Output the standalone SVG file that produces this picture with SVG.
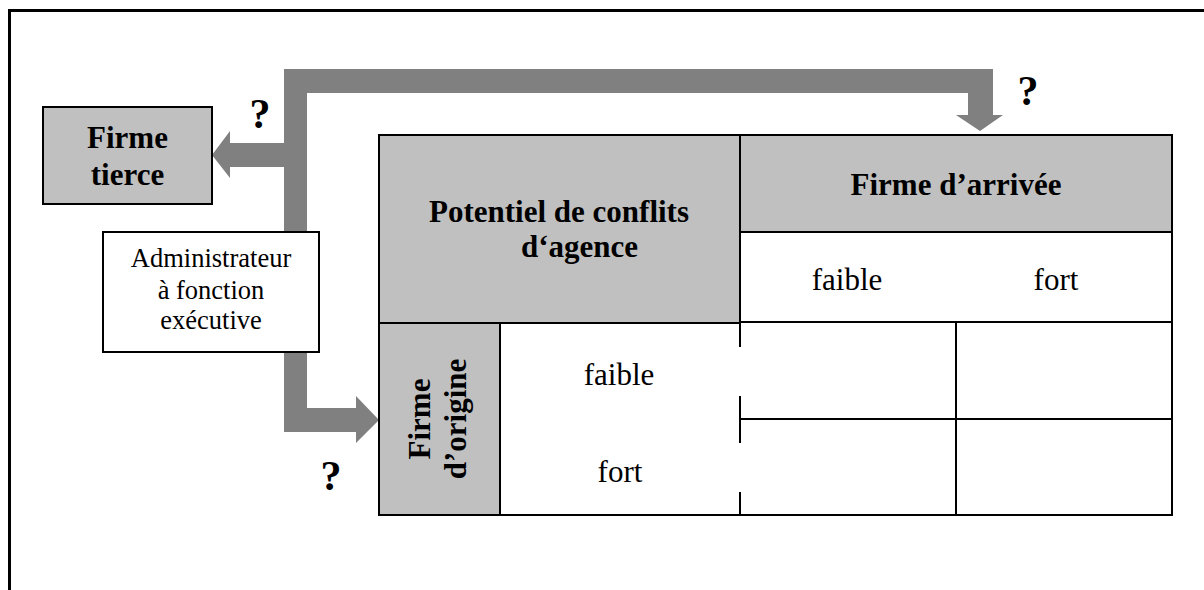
<svg xmlns="http://www.w3.org/2000/svg" width="1204" height="590" viewBox="0 0 1204 590">
<style>
  text { font-family: "Liberation Serif", "Times New Roman", serif; fill: #000; }
  .b { font-weight: bold; font-size: 31px; }
  .r { font-size: 31px; }
  .s { font-size: 26.5px; }
  .q { font-weight: bold; font-size: 42px; text-anchor: middle; }
  .m { text-anchor: middle; }
  .gray { fill: #c0c0c0; stroke: #000; stroke-width: 2; }
  .white { fill: #fff; stroke: #000; stroke-width: 2; }
  .ln { stroke: #000; stroke-width: 2; fill: none; }
  .arrow { fill: #808080; stroke: none; }
</style>
<rect width="1204" height="590" fill="#fff"/>
<!-- frame -->
<path d="M9.5,590 V10.5 H1204" fill="none" stroke="#000" stroke-width="3"/>

<g id="connectors">
  <polygon class="arrow" points="284,232 284,69 993,69 993,115 1003,115 980,131 956,115 968,115 968,93 307,93 307,232"/>
  <polygon class="arrow" points="284,143 230,143 230,131 212,155 230,178 230,167 284,167"/>
  <polygon class="arrow" points="284,352 307,352 307,408 356,408 356,396 379,420 356,443 356,432 284,432"/>
</g>

<g id="q1"><text class="q" x="260" y="128">?</text></g>
<g id="q2"><text class="q" x="331" y="490">?</text></g>
<g id="q3"><text class="q" x="1028" y="105">?</text></g>

<g id="firme-tierce">
  <rect class="gray" x="43" y="107" width="169" height="97"/>
  <text class="b m" x="127.5" y="148">Firme</text>
  <text class="b m" x="127.5" y="185">tierce</text>
</g>

<g id="administrateur">
  <rect class="white" x="103" y="232" width="216" height="120"/>
  <text class="s m" x="211" y="267">Administrateur</text>
  <text class="s m" x="211" y="299">à fonction</text>
  <text class="s m" x="211" y="329">exécutive</text>
</g>

<g id="table">
  <g id="potentiel">
    <rect class="gray" x="379" y="135" width="361" height="188"/>
    <text class="b m" x="559" y="222">Potentiel de conflits</text>
    <text class="b" x="521" y="257">d‘agence</text>
  </g>
  <g id="firme-arrivee">
    <rect class="gray" x="740" y="135" width="432" height="97"/>
    <text class="b m" x="956" y="195">Firme d’arrivée</text>
  </g>
  <g id="arrivee-niveaux">
    <rect class="white" x="740" y="232" width="432" height="90"/>
    <text class="r m" x="847" y="290">faible</text>
    <text class="r m" x="1056" y="290">fort</text>
  </g>
  <g id="firme-origine">
    <rect class="gray" x="379" y="323" width="121" height="192"/>
    <text class="b m" transform="translate(430,419) rotate(-90)">Firme</text>
    <text class="b m" transform="translate(466,419) rotate(-90)">d’origine</text>
  </g>
  <g id="origine-niveaux">
    <path class="ln" d="M500,323 H740 M500,515 H740"/>
    <path class="ln" d="M740,322 V347 M740,396 V443 M740,492 V516"/>
    <text class="r m" x="619" y="385">faible</text>
    <text class="r m" x="620" y="482">fort</text>
  </g>
  <g id="grille">
    <path class="ln" d="M740,322 H1172 V515 H740 M956,322 V515 M740,419 H1172"/>
  </g>
</g>
</svg>
